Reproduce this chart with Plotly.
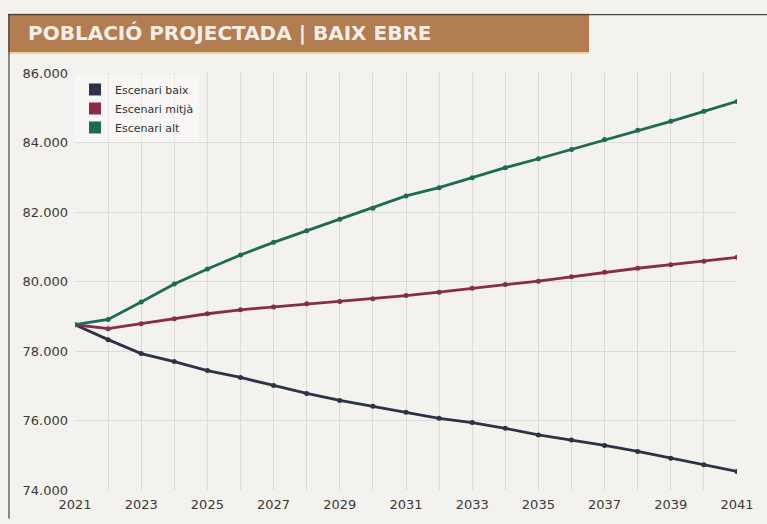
import plotly.graph_objects as go

years = list(range(2021, 2042))
baix = [78756, 78327, 77926, 77696, 77438, 77238, 77009, 76779, 76579, 76407, 76235,
        76063, 75940, 75776, 75585, 75441, 75281, 75109, 74917, 74725, 74535]
mitja = [78756, 78642, 78785, 78928, 79072, 79186, 79264, 79358, 79424, 79501, 79596,
         79693, 79808, 79911, 80009, 80140, 80266, 80381, 80484, 80582, 80696]
alt = [78756, 78908, 79407, 79931, 80361, 80762, 81126, 81460, 81794, 82109, 82462,
       82699, 82989, 83275, 83533, 83799, 84086, 84352, 84610, 84897, 85183]

series_names = ["Escenari baix", "Escenari mitjà", "Escenari alt"]
series_values = [baix, mitja, alt]
series_colors = ["#2c3349", "#8a2b48", "#1c6b55"]

y_ticks = [74000, 76000, 78000, 80000, 82000, 84000, 86000]
y_tick_labels = ["74.000", "76.000", "78.000", "80.000", "82.000", "84.000", "86.000"]
x_ticks = list(range(2021, 2042, 2))

title_text = "POBLACIÓ PROJECTADA | BAIX EBRE"

W, H = 767, 524
L, R, T, B = 75, 737, 73, 495


def px(x):
    return (x - L) / (R - L)


def py(y):
    return (B - y) / (B - T)


fig = go.Figure()
for name, vals, col in zip(series_names, series_values, series_colors):
    fig.add_trace(go.Scatter(
        x=years, y=vals, mode="lines+markers", name=name, showlegend=False,
        line=dict(color=col, width=2.8), marker=dict(color=col, size=5),
    ))
for name, col in zip(series_names, series_colors):
    fig.add_trace(go.Scatter(
        x=[None], y=[None], mode="markers", name=name, showlegend=True,
        marker=dict(color=col, size=12, symbol="square"),
    ))

bg = "#f3f2ee"
grid = "#dcdbd7"
fig.update_layout(
    width=W, height=H,
    margin=dict(l=L, r=W - R, t=T, b=H - B, pad=0),
    paper_bgcolor=bg, plot_bgcolor=bg,
    font=dict(family="DejaVu Sans", size=13, color="#3a3a3a"),
    legend=dict(x=px(75), y=py(75), xanchor="left", yanchor="top",
                bgcolor="rgba(255,255,255,0.4)", font=dict(size=11, color="#333"),
                tracegroupgap=0, itemwidth=30),
    xaxis=dict(range=[2021, 2041], tickvals=x_ticks, ticktext=[str(v) for v in x_ticks],
               showgrid=True, gridcolor=grid, gridwidth=1, zeroline=False,
               tickmode="array", ticks="", ticklabelstandoff=5,
               minor=dict(tickvals=years, showgrid=True, gridcolor=grid, gridwidth=1)),
    yaxis=dict(range=[74000, 86000], tickvals=y_ticks, ticktext=y_tick_labels,
               showgrid=True, gridcolor=grid, gridwidth=1, zeroline=False, ticks="",
               ticklabelstandoff=6),
    shapes=[
        dict(type="rect", xref="paper", yref="paper", x0=px(8), x1=px(589), y0=py(53), y1=py(13),
             fillcolor="#b27d51", line=dict(width=0), layer="above"),
        dict(type="line", xref="paper", yref="paper", x0=px(8), x1=px(589), y0=py(52.5), y1=py(52.5),
             line=dict(color="#e6d78e", width=1.5)),
        dict(type="line", xref="paper", yref="paper", x0=px(8), x1=px(767), y0=py(14), y1=py(14),
             line=dict(color="#444", width=1.2)),
        dict(type="line", xref="paper", yref="paper", x0=px(9), x1=px(9), y0=py(14), y1=py(524),
             line=dict(color="#444", width=1.2)),
    ],
    annotations=[
        dict(text="<b>" + title_text + "</b>", xref="paper", yref="paper", x=px(26), y=py(33),
             xanchor="left", yanchor="middle", showarrow=False,
             font=dict(family="DejaVu Sans", size=20, color="#f7eee8")),
    ],
)

fig.write_html("out.html", config={"displayModeBar": False},
               post_script="document.body.style.margin='0';document.body.style.overflow='hidden';")
